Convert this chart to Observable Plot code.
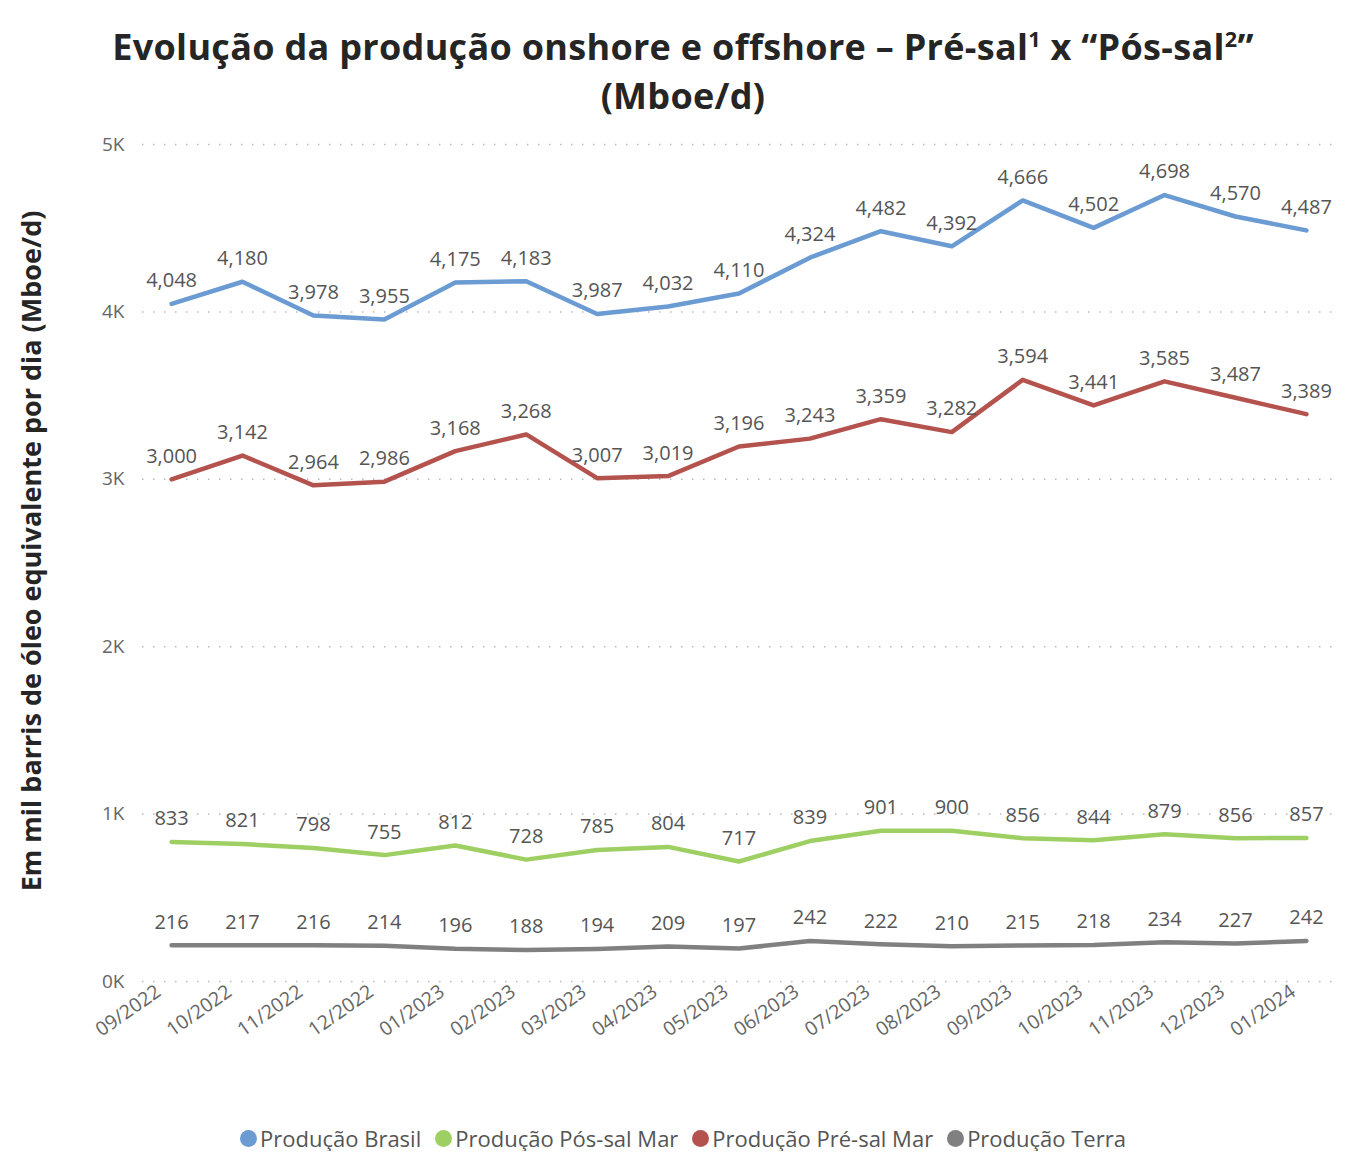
<!DOCTYPE html>
<html>
<head>
<meta charset="utf-8">
<script src="https://cdn.jsdelivr.net/npm/d3@7"></script>
<script src="https://cdn.jsdelivr.net/npm/@observablehq/plot@0.6"></script>
<style>
  body { margin: 0; background: #fff; font-family: "Open Sans", sans-serif; }
  #title { margin-top: 22px; height: 100px; text-align: center; font-weight: 700; font-size: 36px; letter-spacing: 0.3px; line-height: 49px; color: #252525; }
  #title sup { font-size: 0.6em; vertical-align: 0.6em; line-height: 0; }
  #legend { margin-top: 43px; display: flex; justify-content: center; gap: 14px; font-size: 22px; line-height: 26px; color: #555; }
  #legend span.item { display: flex; align-items: center; }
  #legend span.dot { width: 17px; height: 17px; border-radius: 50%; display: inline-block; margin-right: 3px; }
</style>
</head>
<body>
<div id="title">Evolução da produção onshore e offshore – Pré-sal<sup>1</sup> x “Pós-sal<sup>2</sup>”<br>(Mboe/d)</div>
<div id="chart"></div>
<div id="legend"></div>
<script>
const months = ["09/2022","10/2022","11/2022","12/2022","01/2023","02/2023","03/2023","04/2023","05/2023","06/2023","07/2023","08/2023","09/2023","10/2023","11/2023","12/2023","01/2024"];
const brasil = [4048,4180,3978,3955,4175,4183,3987,4032,4110,4324,4482,4392,4666,4502,4698,4570,4487];
const preSal = [3000,3142,2964,2986,3168,3268,3007,3019,3196,3243,3359,3282,3594,3441,3585,3487,3389];
const posSal = [833,821,798,755,812,728,785,804,717,839,901,900,856,844,879,856,857];
const terra = [216,217,216,214,196,188,194,209,197,242,222,210,215,218,234,227,242];
const seriesNames = ["Produção Brasil","Produção Pós-sal Mar","Produção Pré-sal Mar","Produção Terra"];
const seriesColors = ["#6A9BD2","#9ECF63","#B4534E","#808080"];
const yTicks = [0,1000,2000,3000,4000,5000];
const yLabel = "Em mil barris de óleo equivalente por dia (Mboe/d)";

const seriesValues = [brasil, posSal, preSal, terra];
const rows = [];
seriesNames.forEach((s, i) => months.forEach((m, j) => rows.push({series: s, idx: j, month: m, value: seriesValues[i][j]})));
const xTicks = months.map((m, j) => j);

const fmt = d3.format(",");
const chart = Plot.plot({
  width: 1366,
  height: 960,
  marginLeft: 142,
  marginRight: 31,
  marginTop: 22,
  marginBottom: 101,
  style: {fontFamily: "Open Sans, sans-serif", fontSize: "18px", color: "#666", background: "#fff"},
  x: {type: "linear", domain: [-0.41, months.length - 1 + 0.41], label: null},
  y: {domain: [0, 5000], label: null},
  color: {domain: seriesNames, range: seriesColors},
  marks: [
    Plot.gridY(yTicks, {stroke: "#bbb", strokeOpacity: 1, strokeWidth: 1.5, strokeDasharray: "1.5,9.5"}),
    Plot.axisY(yTicks, {tickSize: 0, tickPadding: 18, tickFormat: d => (d / 1000) + "K", fontSize: 19, fill: "#666"}),
    Plot.axisX(xTicks, {tickSize: 0, tickRotate: -35, tickPadding: 8, dx: -13, tickFormat: i => months[i], fontSize: 19.5, fill: "#666"}),
    Plot.line(rows, {x: "idx", y: "value", z: "series", stroke: "series", strokeWidth: 4.5}),
    Plot.text(rows, {x: "idx", y: "value", text: d => fmt(d.value), dy: -23, fontSize: 20, fill: "#555"}),
    Plot.text([yLabel], {frameAnchor: "left", textAnchor: "middle", rotate: -90, dx: -110, dy: -12, fontSize: 27, fontWeight: "bold", letterSpacing: "2px", fill: "#252525"})
  ]
});
document.getElementById("chart").appendChild(chart);

const legend = document.getElementById("legend");
seriesNames.forEach((s, i) => {
  const item = document.createElement("span");
  item.className = "item";
  const dot = document.createElement("span");
  dot.className = "dot";
  dot.style.background = seriesColors[i];
  item.appendChild(dot);
  item.appendChild(document.createTextNode(s));
  legend.appendChild(item);
});
</script>
</body>
</html>
